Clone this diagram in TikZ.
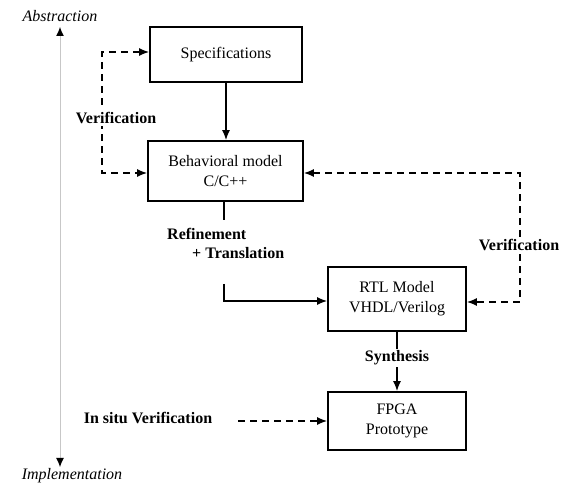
\documentclass[tikz,border=0pt]{standalone}
\usepackage{fontspec}
\setmainfont{Liberation Serif}
\usetikzlibrary{arrows.meta}
\begin{document}
\begin{tikzpicture}[x=1pt,y=-1pt,
  every node/.style={font=\fontsize{16}{20}\selectfont},
  box/.style={draw, line width=1.8pt, align=center, inner sep=0pt},
  flow/.style={line width=1.5pt},
  tip/.style={-{Latex[length=10pt,width=8pt]}},
  bothtips/.style={{Latex[length=10pt,width=8pt]}-{Latex[length=10pt,width=8pt]}},
  dashflow/.style={line width=1.5pt, dash pattern=on 7pt off 5pt},
  lbl/.style={font=\bfseries\fontsize{16}{20}\selectfont, fill=white, inner sep=2pt},
  axislabel/.style={font=\itshape\fontsize{16}{20}\selectfont},
]
\useasboundingbox (0,0) rectangle (566,486);

% abstraction axis
\node[axislabel] (abs) at (60,16) {Abstraction};
\node[axislabel] (impl) at (72,476) {Implementation};
\coordinate (axtop) at (60,27);
\coordinate (axbot) at (60,467);
\draw[black!22, line width=1pt,
  {Latex[black,length=9pt,width=8pt]}-{Latex[black,length=9pt,width=8pt]}]
  (axtop) -- (axbot);

% design steps
\node[box, minimum width=152pt, minimum height=55pt] (spec) at (226,54.5) {Specifications};
\node[box, minimum width=155pt, minimum height=60pt] (beh) at (225.5,171) {Behavioral model\\C/C++};
\node[box, minimum width=138pt, minimum height=64pt] (rtl) at (397,299) {RTL Model\\VHDL/Verilog};
\node[box, minimum width=138pt, minimum height=58pt] (fpga) at (397,421) {FPGA\\Prototype};

% specification to behavioral model
\draw[flow, tip] (spec.south) -- (spec.south |- beh.north);

% verification between specification and behavioral model
\coordinate (vl1) at (102,52);
\coordinate (vl2) at (102,173);
\draw[dashflow, bothtips] (vl1 -| spec.west) -- (vl1) -- (vl2) -- (vl2 -| beh.west);
\node[lbl] (verl) at (116,118) {Verification};

% verification between behavioral model and RTL
\coordinate (vr1) at (520,173);
\coordinate (vr2) at (520,302);
\draw[dashflow, bothtips] (vr1 -| beh.east) -- (vr1) -- (vr2) -- (vr2 -| rtl.east);
\node[lbl] (verr) at (519,245) {Verification};

% refinement and translation
\coordinate (r1) at (224,220);
\coordinate (r2) at (224,284);
\coordinate (r3) at (224,301);
\draw[flow] (r1 |- beh.south) -- (r1);
\draw[flow, tip] (r2) -- (r3) -- (r3 -| rtl.west);
\node[lbl, anchor=west, fill=none, inner sep=0pt] (ref) at (167,234) {Refinement};
\node[lbl, anchor=west, fill=none, inner sep=0pt] (trans) at (192,253) {+ Translation};

% synthesis
\draw[flow, tip] (rtl.south) -- (fpga.north);
\node[lbl] (syn) at (397,358) {Synthesis};

% in situ verification
\node[lbl] (insitu) at (148,418) {In situ Verification};
\coordinate (is) at (238,421);
\draw[dashflow, tip] (is) -- (is -| fpga.west);
\end{tikzpicture}
\end{document}
